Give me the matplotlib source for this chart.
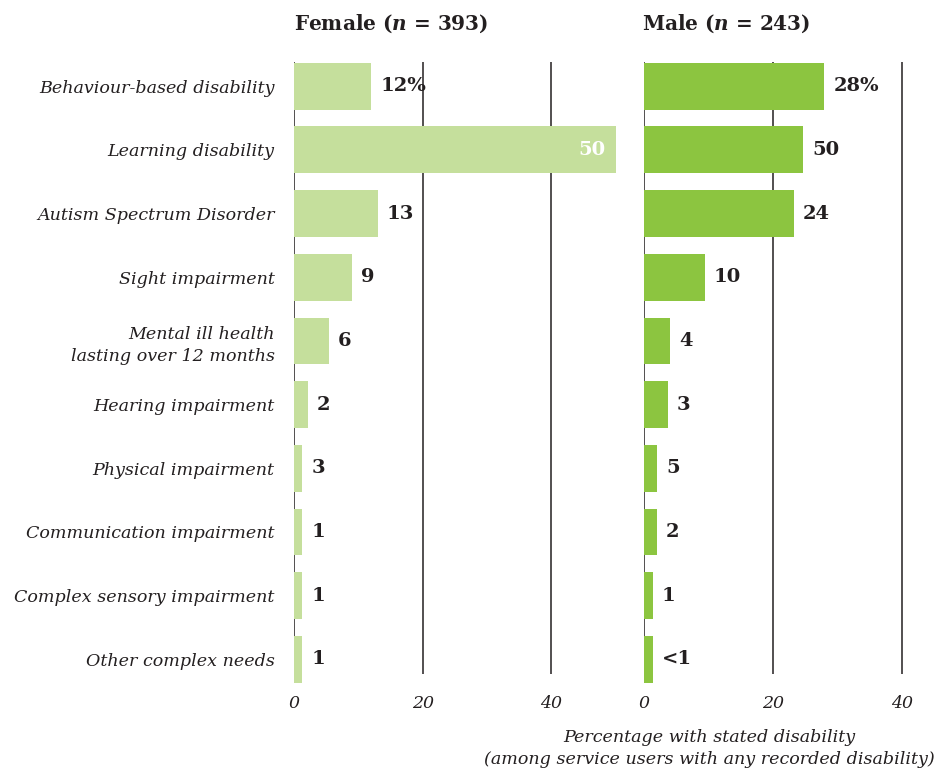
import matplotlib
matplotlib.use("Agg")
import matplotlib.pyplot as plt

plt.rcParams['font.family'] = ['DejaVu Serif']
plt.rcParams['mathtext.fontset'] = 'custom'
plt.rcParams['mathtext.it'] = 'DejaVu Serif:italic:bold'
plt.rcParams['mathtext.rm'] = 'DejaVu Serif:bold'

categories = ["Behaviour-based disability", "Learning disability",
              "Autism Spectrum Disorder", "Sight impairment",
              "Mental ill health\nlasting over 12 months", "Hearing impairment",
              "Physical impairment", "Communication impairment",
              "Complex sensory impairment", "Other complex needs"]

# bar lengths as drawn in the source chart
female_vals = [12, 50, 13, 9, 5.4, 2.2, 1.3, 1.3, 1.3, 1.3]
male_vals = [28, 24.7, 23.2, 9.4, 4.1, 3.7, 2.0, 2.0, 1.4, 1.4]
# printed value labels
female_labels = ["12%", "50", "13", "9", "6", "2", "3", "1", "1", "1"]
male_labels = ["28%", "50", "24", "10", "4", "3", "5", "2", "1", "<1"]

female_title = "Female ($n$ = 393)"
male_title = "Male ($n$ = 243)"
xlabel = "Percentage with stated disability\n(among service users with any recorded disability)"
xticks = [0, 20, 40]

ink = "#231f20"
fem_col = "#c5df9c"
male_col = "#8cc540"

fig = plt.figure(figsize=(9.36, 7.69), dpi=100)
ax_f = fig.add_axes([294 / 936, 1 - 674 / 769, 325 / 936, 612 / 769])
ax_m = fig.add_axes([644 / 936, 1 - 674 / 769, 290 / 936, 612 / 769])

rows = list(range(len(categories)))

for ax, vals, labs, col, xmax in [(ax_f, female_vals, female_labels, fem_col, 50.5),
                                  (ax_m, male_vals, male_labels, male_col, 45)]:
    bars = ax.barh(rows, vals, height=0.735, color=col, zorder=3, clip_on=False)
    for b, v, lab in zip(bars, vals, labs):
        y = b.get_y() + b.get_height() / 2
        if v > 45:
            ax.annotate(lab, (v, y), xytext=(-7.5, 0), textcoords="offset points",
                        ha="right", va="center", fontsize=14, fontweight="bold",
                        color="white", zorder=4)
        else:
            ax.annotate(lab, (v, y), xytext=(6.5, 0), textcoords="offset points",
                        ha="left", va="center", fontsize=14, fontweight="bold",
                        color=ink, zorder=4)
    ax.set_xlim(0, xmax)
    ax.set_ylim(9.23, -0.38)
    ax.set_xticks(xticks)
    ax.set_xticklabels([str(t) for t in xticks], fontstyle="italic", fontsize=12.5, color=ink)
    ax.tick_params(axis="x", length=0, pad=15)
    for t in ax.get_xticklabels():
        t.set_x(t.get_position()[0])
    ax.grid(axis="x", color=ink, linewidth=1.1, zorder=0)
    ax.set_axisbelow(True)
    for s in ax.spines.values():
        s.set_visible(False)

ax_f.set_yticks(rows)
ax_f.set_yticklabels(categories, fontstyle="italic", fontsize=12.6, color=ink)
for t in ax_f.get_yticklabels():
    t.set_linespacing(1.4)
ax_f.tick_params(axis="y", length=0, pad=14)
ax_m.set_yticks([])

fig.text(294 / 936, 1 - 24 / 769, female_title, fontsize=14.4, fontweight="bold",
         color=ink, ha="left", va="center")
fig.text(642 / 936, 1 - 24 / 769, male_title, fontsize=14.4, fontweight="bold",
         color=ink, ha="left", va="center")
fig.text(709 / 936, 1 - 729 / 769, xlabel, fontsize=12.6, fontstyle="italic",
         color=ink, ha="center", va="top", linespacing=1.4)

fig.savefig("out.png", dpi=100)
